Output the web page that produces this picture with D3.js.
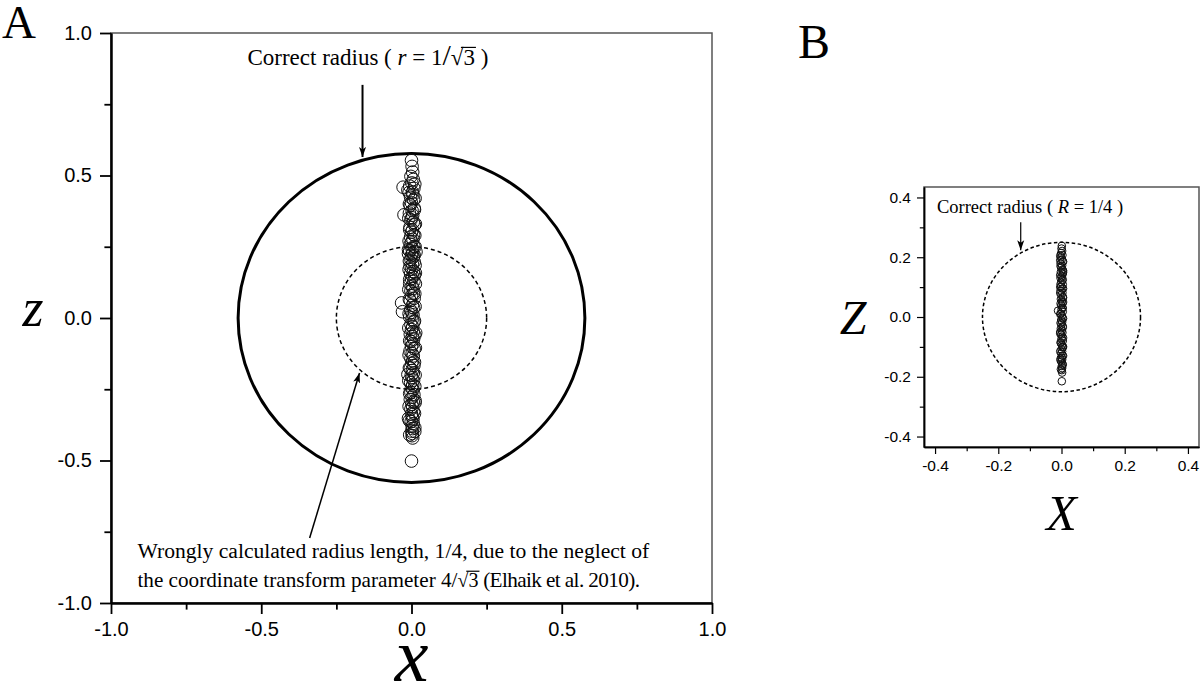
<!DOCTYPE html>
<html><head><meta charset="utf-8">
<script src="https://cdn.jsdelivr.net/npm/d3@7"></script>
<style>body{margin:0;background:#fff}svg{display:block}</style>
</head><body>
<svg id="c" width="1200" height="687"></svg>
<script>
// ---------- DATA ----------
const aTicks = [-1.0, -0.5, 0.0, 0.5, 1.0];
const aMinor = [-0.75, -0.25, 0.25, 0.75];
const bTicks = [-0.4, -0.2, 0.0, 0.2, 0.4];
const bMinor = [-0.3, -0.1, 0.1, 0.3];
const aCorrectRadius = 0.577;   // 1/sqrt(3)
const aWrongRadius = 0.25;
const bCorrectRadius = 0.25;
const aZ = [0.553,0.532,0.512,0.497,0.486,0.474,0.463,0.455,0.449,0.441,
0.432,0.424,0.415,0.404,0.396,0.385,0.377,0.368,0.361,0.352,
0.344,0.336,0.327,0.318,0.309,0.301,0.292,0.284,0.276,0.268,
0.259,0.251,0.243,0.236,0.228,0.221,0.214,0.206,0.197,0.189,
0.181,0.172,0.163,0.155,0.146,0.138,0.129,0.121,0.112,0.104,
0.095,0.087,0.078,0.069,0.061,0.053,0.045,0.036,0.028,0.019,
0.011,0.003,-0.006,-0.014,-0.023,-0.031,-0.04,-0.048,-0.057,-0.065,
-0.074,-0.082,-0.091,-0.099,-0.108,-0.116,-0.125,-0.133,-0.142,-0.15,
-0.159,-0.167,-0.176,-0.184,-0.193,-0.201,-0.21,-0.218,-0.227,-0.235,
-0.244,-0.252,-0.261,-0.269,-0.278,-0.286,-0.295,-0.303,-0.312,-0.32,
-0.329,-0.337,-0.346,-0.354,-0.363,-0.371,-0.38,-0.388,-0.397,-0.405,
-0.413,-0.421,-0.502,
0.459,0.362,0.232,0.226,0.158,0.022,-0.052,-0.198,-0.297,-0.352,-0.398,
0.47,0.44,0.42,0.40,0.38,0.35,0.33,0.31,0.29,0.27,0.25,0.24,0.22,0.20,0.185,0.17,0.15,0.135,0.12,0.10,
0.085,0.065,0.04,0.015,-0.01,-0.035,-0.06,-0.08,-0.105,-0.13,-0.155,-0.175,-0.2,-0.22,-0.24,-0.265,
-0.29,-0.31,-0.335,-0.36,-0.385,-0.41];
const aX = [0.000,0.002,0.004,-0.002,0.006,0.001,-0.006,0.008,-0.012,0.003,
0.005,-0.003,0.007,0.000,-0.004,0.009,0.002,-0.007,0.004,0.001,
-0.002,0.006,0.010,-0.005,0.003,0.000,0.007,-0.003,0.005,0.001,
-0.004,0.008,0.002,-0.006,0.004,0.000,0.006,-0.002,0.009,0.003,
-0.005,0.001,0.007,-0.003,0.004,0.000,0.008,-0.006,0.002,0.005,
-0.002,0.006,0.000,0.009,-0.004,-0.033,0.003,0.007,-0.003,0.001,
0.005,-0.006,0.002,0.008,-0.002,0.004,0.000,0.006,-0.004,0.003,
0.007,-0.001,0.005,0.000,0.009,-0.005,0.002,0.006,-0.002,0.004,
0.001,0.008,-0.004,0.003,0.006,-0.001,0.002,0.007,-0.003,0.004,
0.000,0.005,-0.002,0.008,0.002,-0.004,0.006,0.001,0.004,-0.002,
0.007,0.000,0.003,0.005,-0.001,0.006,0.002,0.004,0.001,0.003,
0.002,0.004,0.000,
-0.028,-0.025,0.015,-0.010,0.013,-0.030,0.014,-0.012,0.012,-0.010,0.011,
0.011,-0.008,0.012,-0.007,0.010,-0.009,0.013,-0.006,0.011,-0.008,0.012,-0.010,0.009,-0.007,0.012,-0.008,0.010,-0.006,0.013,-0.009,
0.011,-0.007,0.012,-0.008,0.010,-0.009,0.011,-0.006,0.013,-0.008,0.010,-0.007,0.012,-0.009,0.011,-0.006,
0.012,-0.008,0.010,-0.007,0.011,-0.006];
const bZ = [0.238,0.229,0.221,0.214,0.207,0.2,0.193,0.186,0.179,0.172,
0.165,0.158,0.151,0.144,0.137,0.13,0.123,0.116,0.109,0.102,
0.095,0.088,0.081,0.074,0.067,0.06,0.053,0.046,0.039,0.032,
0.025,0.018,0.011,0.004,-0.003,-0.01,-0.017,-0.024,-0.031,-0.038,
-0.045,-0.052,-0.059,-0.066,-0.073,-0.08,-0.087,-0.094,-0.101,-0.108,
-0.115,-0.122,-0.129,-0.136,-0.143,-0.15,-0.157,-0.164,-0.171,-0.178,
-0.186,-0.215,0.021,0.19,0.15,0.1,0.05,-0.05,-0.1,-0.14,
0.205,0.185,0.17,0.155,0.14,0.125,0.11,0.095,0.08,0.065,0.045,0.03,0.01,
-0.005,-0.02,-0.035,-0.055,-0.07,-0.085,-0.1,-0.115,-0.13,-0.145,-0.16,-0.175];
const bX = [0.001,0.0,0.002,-0.001,0.003,-0.002,0.001,0.004,-0.003,0.002,
0.0,0.003,-0.002,0.004,0.001,-0.003,0.002,0.0,0.004,-0.001,
0.002,-0.003,0.003,0.0,0.004,-0.002,0.001,0.003,-0.001,0.002,
0.0,0.004,-0.002,0.001,0.003,-0.001,0.002,0.0,0.004,-0.002,
0.001,0.003,-0.001,0.002,0.0,0.004,-0.002,0.001,0.003,0.0,
0.002,-0.001,0.003,0.001,0.002,0.0,0.003,0.001,0.002,0.001,
0.002,0.001,-0.011,-0.004,0.005,-0.004,0.005,-0.004,0.005,-0.003,
-0.004,0.005,-0.003,0.005,-0.004,0.004,-0.003,0.005,-0.004,0.005,-0.003,0.004,-0.004,
0.005,-0.003,0.004,-0.004,0.005,-0.003,0.004,-0.004,0.005,-0.003,0.004,-0.002];

// ---------- DRAW ----------
const svg = d3.select('#c');
const SERIF = "'Liberation Serif','Times New Roman',serif";
const SANS = "'Liberation Sans',Arial,sans-serif";
const fmt = d => d.toFixed(1);

function rich(g, x, y, parts, size) {
  const t = g.append('text').attr('x', x).attr('y', y)
    .style('font-family', SERIF).style('font-size', size + 'px').attr('fill', '#000');
  let idx = 0; const overs = [];
  parts.forEach(p => {
    const ts = t.append('tspan').text(p.t);
    if (p.it) ts.style('font-style', 'italic');
    if (p.s) ts.style('font-size', p.s + 'px');
    if (p.ls) ts.style('letter-spacing', p.ls + 'px');
    if (p.over) overs.push([idx, idx + p.t.length - 1]);
    idx += p.t.length;
  });
  const node = t.node();
  overs.forEach(([a, b]) => {
    const ea = node.getExtentOfChar(a), eb = node.getExtentOfChar(b);
    const yy = ea.y + ea.height * 0.1;
    g.append('line').attr('x1', ea.x + ea.width * 0.8).attr('x2', eb.x + eb.width + 1)
      .attr('y1', yy).attr('y2', yy).attr('stroke', '#000').attr('stroke-width', 1.2);
  });
  return t;
}

svg.append('defs').append('marker').attr('id', 'arr').attr('viewBox', '0 0 10 10')
  .attr('refX', 10).attr('refY', 5).attr('markerWidth', 10).attr('markerHeight', 10)
  .attr('markerUnits', 'userSpaceOnUse').attr('orient', 'auto')
  .append('path').attr('d', 'M0,1.5 L10,5 L0,8.5 L2.5,5 Z').attr('fill', '#000');

function panel(cfg) {
  const g = svg.append('g');
  const x = d3.scaleLinear().domain(cfg.dom).range(cfg.rx);
  const y = d3.scaleLinear().domain(cfg.dom).range(cfg.ry);
  g.append('rect').attr('x', cfg.rx[0]).attr('y', cfg.ry[1])
    .attr('width', cfg.rx[1] - cfg.rx[0]).attr('height', cfg.ry[0] - cfg.ry[1])
    .attr('fill', 'none').attr('stroke', '#555').attr('stroke-width', 1.5);
  const mk = (ax, vals, size, lab) => ax.tickValues(vals).tickSize(size).tickSizeOuter(0)
    .tickPadding(cfg.pad).tickFormat(lab ? fmt : '');
  const styleAx = s => {
    s.select('.domain').attr('stroke', '#000').attr('stroke-width', cfg.aw);
    s.selectAll('.tick line').attr('stroke', '#000').attr('stroke-width', cfg.tw);
    s.selectAll('.tick text').style('font-family', SANS).style('font-size', cfg.fs + 'px').attr('fill', '#000');
  };
  g.append('g').attr('transform', `translate(0,${cfg.ry[0]})`).call(mk(d3.axisBottom(x), cfg.minor, cfg.tl * 0.6, false)).call(styleAx);
  g.append('g').attr('transform', `translate(0,${cfg.ry[0]})`).call(mk(d3.axisBottom(x), cfg.ticks, cfg.tl, true)).call(styleAx);
  g.append('g').attr('transform', `translate(${cfg.rx[0]},0)`).call(mk(d3.axisLeft(y), cfg.minor, cfg.tl * 0.6, false)).call(styleAx);
  g.append('g').attr('transform', `translate(${cfg.rx[0]},0)`).call(mk(d3.axisLeft(y), cfg.ticks, cfg.tl, true)).call(styleAx);
  return {g, x, y};
}

// ---- Panel A ----
const A = panel({dom: [-1, 1], rx: [111, 712], ry: [603, 33], ticks: aTicks, minor: aMinor,
  tl: 11, pad: 8, fs: 20, aw: 2, tw: 1.8});
A.g.append('ellipse').attr('cx', A.x(0)).attr('cy', A.y(0))
  .attr('rx', A.x(aCorrectRadius) - A.x(0)).attr('ry', A.y(0) - A.y(aCorrectRadius))
  .attr('fill', 'none').attr('stroke', '#000').attr('stroke-width', 3);
A.g.append('ellipse').attr('cx', A.x(0)).attr('cy', A.y(0))
  .attr('rx', A.x(aWrongRadius) - A.x(0)).attr('ry', A.y(0) - A.y(aWrongRadius))
  .attr('fill', 'none').attr('stroke', '#000').attr('stroke-width', 1.5).attr('stroke-dasharray', '4,3');
A.g.append('g').selectAll('circle').data(aZ.map((z, i) => [aX[i], z])).join('circle')
  .attr('cx', d => A.x(d[0])).attr('cy', d => A.y(d[1])).attr('r', 6.3)
  .attr('fill', 'none').attr('stroke', '#111').attr('stroke-width', 1);
A.g.append('line').attr('x1', A.x(-0.163)).attr('y1', A.y(0.818)).attr('x2', A.x(-0.163)).attr('y2', A.y(0.565))
  .attr('stroke', '#000').attr('stroke-width', 2).attr('marker-end', 'url(#arr)');
rich(A.g, A.x(-0.546), A.y(0.888), [{t: 'Correct radius ( '}, {t: 'r', it: 1}, {t: ' = 1'}, {t: '/', s: 30},
  {t: '√3', over: 1}, {t: ' )'}], 23);
A.g.append('line').attr('x1', A.x(-0.339)).attr('y1', A.y(-0.772)).attr('x2', A.x(-0.173)).attr('y2', A.y(-0.193))
  .attr('stroke', '#000').attr('stroke-width', 1.5).attr('marker-end', 'url(#arr)');
rich(A.g, A.x(-0.912), A.y(-0.842), [{t: 'Wrongly calculated radius length, 1/4, due to the neglect of'}], 21.6);
rich(A.g, A.x(-0.912), A.y(-0.944), [{t: 'the coordinate transform parameter 4/'}, {t: '√3', over: 1, s: 20},
  {t: '  (Elhaik et al. 2010).', ls: -0.6}], 21.2);
svg.append('text').attr('x', 2).attr('y', 38).text('A').style('font-family', SERIF).style('font-size', '47px');
svg.append('text').attr('x', A.x(0)).attr('y', 681).attr('text-anchor', 'middle').text('x')
  .style('font-family', SERIF).style('font-style', 'italic').style('font-size', '76px');
svg.append('text').attr('x', 33).attr('y', 326).attr('text-anchor', 'middle').text('z')
  .style('font-family', SERIF).style('font-style', 'italic').style('font-size', '54px');

// ---- Panel B ----
const B = panel({dom: [-0.435, 0.435], rx: [924, 1199], ry: [447, 187], ticks: bTicks, minor: bMinor,
  tl: 7, pad: 6, fs: 15.5, aw: 1.5, tw: 1.2});
B.g.append('ellipse').attr('cx', B.x(0)).attr('cy', B.y(0))
  .attr('rx', B.x(bCorrectRadius) - B.x(0)).attr('ry', B.y(0) - B.y(bCorrectRadius))
  .attr('fill', 'none').attr('stroke', '#000').attr('stroke-width', 1.5).attr('stroke-dasharray', '3.5,2.5');
B.g.append('g').selectAll('circle').data(bZ.map((z, i) => [bX[i], z])).join('circle')
  .attr('cx', d => B.x(d[0])).attr('cy', d => B.y(d[1])).attr('r', 3.8)
  .attr('fill', 'none').attr('stroke', '#111').attr('stroke-width', 1);
B.g.append('line').attr('x1', B.x(-0.129)).attr('y1', B.y(0.317)).attr('x2', B.x(-0.129)).attr('y2', B.y(0.223))
  .attr('stroke', '#000').attr('stroke-width', 1.2).attr('marker-end', 'url(#arr)');
rich(B.g, B.x(-0.394), B.y(0.347), [{t: 'Correct radius ( '}, {t: 'R', it: 1}, {t: ' = 1/4 )'}], 18.5);
svg.append('text').attr('x', 798).attr('y', 58).text('B').style('font-family', SERIF).style('font-size', '48px');
svg.append('text').attr('x', B.x(0)).attr('y', 530).attr('text-anchor', 'middle').text('X')
  .style('font-family', SERIF).style('font-style', 'italic').style('font-size', '50px');
svg.append('text').attr('x', 853).attr('y', 334).attr('text-anchor', 'middle').text('Z')
  .style('font-family', SERIF).style('font-style', 'italic').style('font-size', '48px');
</script>
</body></html>
